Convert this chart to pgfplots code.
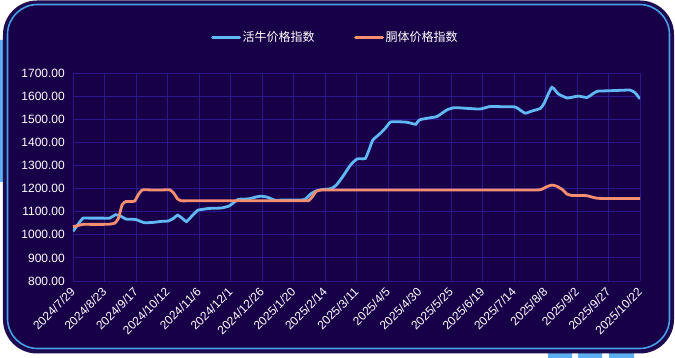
\documentclass[border=0pt]{standalone}
\usepackage{fontspec}
\setmainfont{Liberation Sans}
\newfontfamily\cjk{Noto Sans CJK SC}
\usepackage{pgfplots}
\pgfplotsset{compat=1.18}
\definecolor{bg}{RGB}{24,0,72}
\definecolor{ring}{RGB}{30,12,80}
\definecolor{frameblue}{RGB}{74,160,232}
\definecolor{glowblue}{RGB}{90,176,240}
\definecolor{gridcol}{RGB}{42,24,140}
\definecolor{liveblue}{RGB}{96,184,244}
\definecolor{carcass}{RGB}{246,142,112}
\begin{document}
\begin{tikzpicture}
\begin{scope}[x=1pt,y=-1pt,shift={(-73pt,281pt)}]
  \path[use as bounding box] (0,0) rectangle (675,358);
  \clip (0,0) rectangle (675,358);
  \fill[white] (0,0) rectangle (675,358);
  \fill[glowblue, rounded corners=4pt] (-6,40) rectangle (10,182);
  \fill[glowblue, rounded corners=5pt] (548,340) rectangle (572,364);
  \fill[glowblue, rounded corners=5pt] (578,340) rectangle (602,364);
  \fill[glowblue, rounded corners=5pt] (609,340) rectangle (634,364);
  \fill[ring, rounded corners=34pt] (3,0.5) rectangle (674,353.5);
  \fill[bg, rounded corners=31pt] (6,3.5) rectangle (671,350.5);
  \draw[frameblue, line width=1.6pt, rounded corners=30pt] (7.5,4.5) rectangle (669.5,348.5);
\end{scope}
\begin{axis}[
  at={(0pt,0pt)}, anchor=south west,
  scale only axis, width=567pt, height=208pt,
  xmin=0, xmax=450, ymin=800, ymax=1700,
  axis line style={draw=none},
  tick style={draw=none},
  grid=major,
  major grid style={gridcol, line width=0.8pt},
  xtick={0,25,...,450},
  xticklabels={2024/7/29,2024/8/23,2024/9/17,2024/10/12,2024/11/6,2024/12/1,2024/12/26,2025/1/20,2025/2/14,2025/3/11,2025/4/5,2025/4/30,2025/5/25,2025/6/19,2025/7/14,2025/8/8,2025/9/2,2025/9/27,2025/10/22},
  ytick={800,900,...,1700},
  tick label style={white, font=\fontsize{12}{14}\selectfont},
  xticklabel style={rotate=45, anchor=east, inner sep=0pt},
  xticklabel shift=9pt,
  yticklabel style={inner sep=0pt, /pgf/number format/.cd, fixed, fixed zerofill, precision=2, 1000 sep={}, assume math mode=true},
  yticklabel shift=8pt,
  legend columns=2,
  legend style={at={(0.2434,1.173)}, anchor=west, draw=none, fill=none, text=white,
    font=\cjk\fontsize{12}{14}\selectfont, inner sep=0pt,
    nodes={inner sep=1.5pt},
    /tikz/every even column/.append style={column sep=38pt}},
  legend image code/.code={\draw[#1, line width=3pt, line cap=round] (0pt,0pt) -- (27pt,0pt);},
]
\addplot[liveblue, line width=2.8pt, smooth, tension=0.3] coordinates {
(0,1015) (4,1045) (8,1072) (13,1072) (18,1072) (24,1072) (29,1072) (34,1087) (38,1080) (42,1068) (46,1067) (50,1066) (54,1057) (57,1052) (62,1053) (66,1055) (70,1058) (76,1060) (80,1072) (83,1085) (87,1070) (90,1057) (95,1085) (99,1106) (104,1111) (108,1114) (113,1115) (118,1116) (124,1125) (131,1153) (135,1154) (140,1156) (145,1163) (149,1167) (154,1163) (160,1150) (166,1150) (172,1150) (178,1150) (184,1153) (189,1178) (193,1190) (197,1195) (201,1197) (205,1200) (209,1215) (214,1251) (220,1300) (225,1327) (228,1329) (232,1330) (235,1368) (238,1410) (244,1439) (248,1462) (252,1488) (258,1489) (265,1487) (270,1480) (272,1478) (275,1497) (282,1505) (289,1512) (297,1541) (303,1550) (313,1547) (323,1544) (331,1555) (341,1554) (351,1553) (355,1539) (359,1526) (364,1535) (371,1547) (374,1570) (380,1638) (385,1610) (392,1592) (396,1595) (401,1600) (408,1594) (412,1608) (416,1621) (425,1623) (434,1625) (442,1626) (446,1615) (450,1588)
};
\addlegendentry{活牛价格指数}
\addplot[carcass, line width=2.8pt, smooth, tension=0.3] coordinates {
(0,1035) (4,1040) (8,1045) (16,1045) (24,1045) (29,1046) (33,1050) (36,1070) (39,1130) (42,1144) (46,1144) (49,1146) (52,1175) (55,1194) (62,1194) (70,1194) (77,1194) (80,1180) (83,1155) (86,1147) (92,1147) (100,1147) (115,1147) (130,1147) (145,1147) (160,1147) (172,1147) (182,1147) (187,1148) (190,1165) (193,1188) (197,1194) (204,1194) (215,1194) (235,1194) (255,1194) (275,1194) (295,1194) (315,1194) (335,1194) (355,1194) (365,1194) (371,1195) (376,1208) (380,1215) (384,1210) (389,1193) (392,1176) (396,1170) (402,1170) (408,1169) (412,1163) (416,1158) (424,1157) (435,1157) (450,1157)
};
\addlegendentry{胴体价格指数}
\end{axis}
\end{tikzpicture}
\end{document}
